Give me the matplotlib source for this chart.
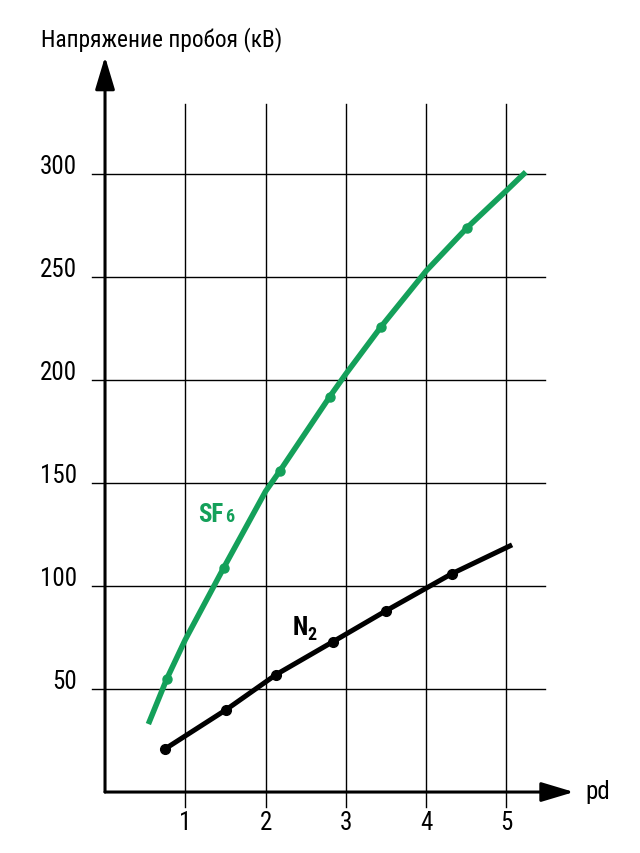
import matplotlib.pyplot as plt

# SF6 curve and its marked points
sf6_x = [0.54, 0.77, 1.00, 1.48, 2.00, 2.18, 2.80, 3.00, 3.44, 4.00, 4.51, 5.00, 5.24]
sf6_y = [33, 55, 74, 109, 146, 156, 192, 203, 226, 253, 274, 292, 301]
sf6_mx = [0.77, 1.48, 2.18, 2.80, 3.44, 4.51]
sf6_my = [55, 109, 156, 192, 226, 274]

# N2 curve and its marked points
n2_x = [0.75, 1.51, 2.13, 2.84, 3.50, 4.32, 5.07]
n2_y = [21, 40, 57, 73, 88, 106, 120]
n2_mx = [0.75, 1.51, 2.13, 2.84, 3.50, 4.32]
n2_my = [21, 40, 57, 73, 88, 106]

xticks = [1, 2, 3, 4, 5]
yticks = [50, 100, 150, 200, 250, 300]

green = '#14a05a'
font = ['Roboto Condensed', 'DejaVu Sans']

fig = plt.figure(figsize=(6.4, 8.54), dpi=100)
ax = fig.add_axes([0, 0, 1, 1])
ax.set_xlim(-1.308, 6.663)
ax.set_ylim(-29.6, 385)
ax.axis('off')

# grid
for x in xticks:
    ax.plot([x, x], [-7.3, 334], color='black', lw=1.0, zorder=1)
for y in yticks:
    ax.plot([-0.16, 5.48], [y, y], color='black', lw=1.0, zorder=1)

# axes with arrows
ax.annotate('', xy=(0, 357), xytext=(0, 0),
            arrowprops=dict(arrowstyle='-|>,head_length=1.0,head_width=0.3',
                            lw=2.2, color='black', mutation_scale=20,
                            shrinkA=0, shrinkB=0))
ax.annotate('', xy=(5.84, 0), xytext=(0, 0),
            arrowprops=dict(arrowstyle='-|>,head_length=1.0,head_width=0.3',
                            lw=2.2, color='black', mutation_scale=20,
                            shrinkA=0, shrinkB=0))

# curves
ax.plot(sf6_x, sf6_y, color=green, lw=4.0, solid_capstyle='butt', zorder=3)
ax.plot(sf6_mx, sf6_my, 'o', color=green, ms=6.5, zorder=4)
ax.plot(n2_x, n2_y, color='black', lw=3.6, solid_capstyle='butt', zorder=3)
ax.plot(n2_mx, n2_my, 'o', color='black', ms=7, zorder=4)

# tick labels
for y in yticks:
    ax.text(-0.35, y + 4, str(y), ha='right', va='center', fontsize=18, family=font)
for x in xticks:
    ax.text(x, -14.5, str(x), ha='center', va='center', fontsize=18, family=font)

ax.text(5.98, 0.5, 'pd', ha='left', va='center', fontsize=18, family=font)
ax.text(-0.80, 366, 'Напряжение пробоя (кВ)', ha='left', va='center',
        fontsize=16.8, family=font)

ax.text(1.16, 131.5, 'SF', color=green, fontsize=18, fontweight='bold',
        ha='left', va='baseline', family=font)
ax.text(1.495, 131.5, '6', color=green, fontsize=13, fontweight='bold',
        ha='left', va='baseline', family=font)
ax.text(2.34, 76.5, 'N', color='black', fontsize=18, fontweight='bold',
        ha='left', va='baseline', family=font)
ax.text(2.52, 74.5, '2', color='black', fontsize=13, fontweight='bold',
        ha='left', va='baseline', family=font)

fig.savefig('out.png', dpi=100)
